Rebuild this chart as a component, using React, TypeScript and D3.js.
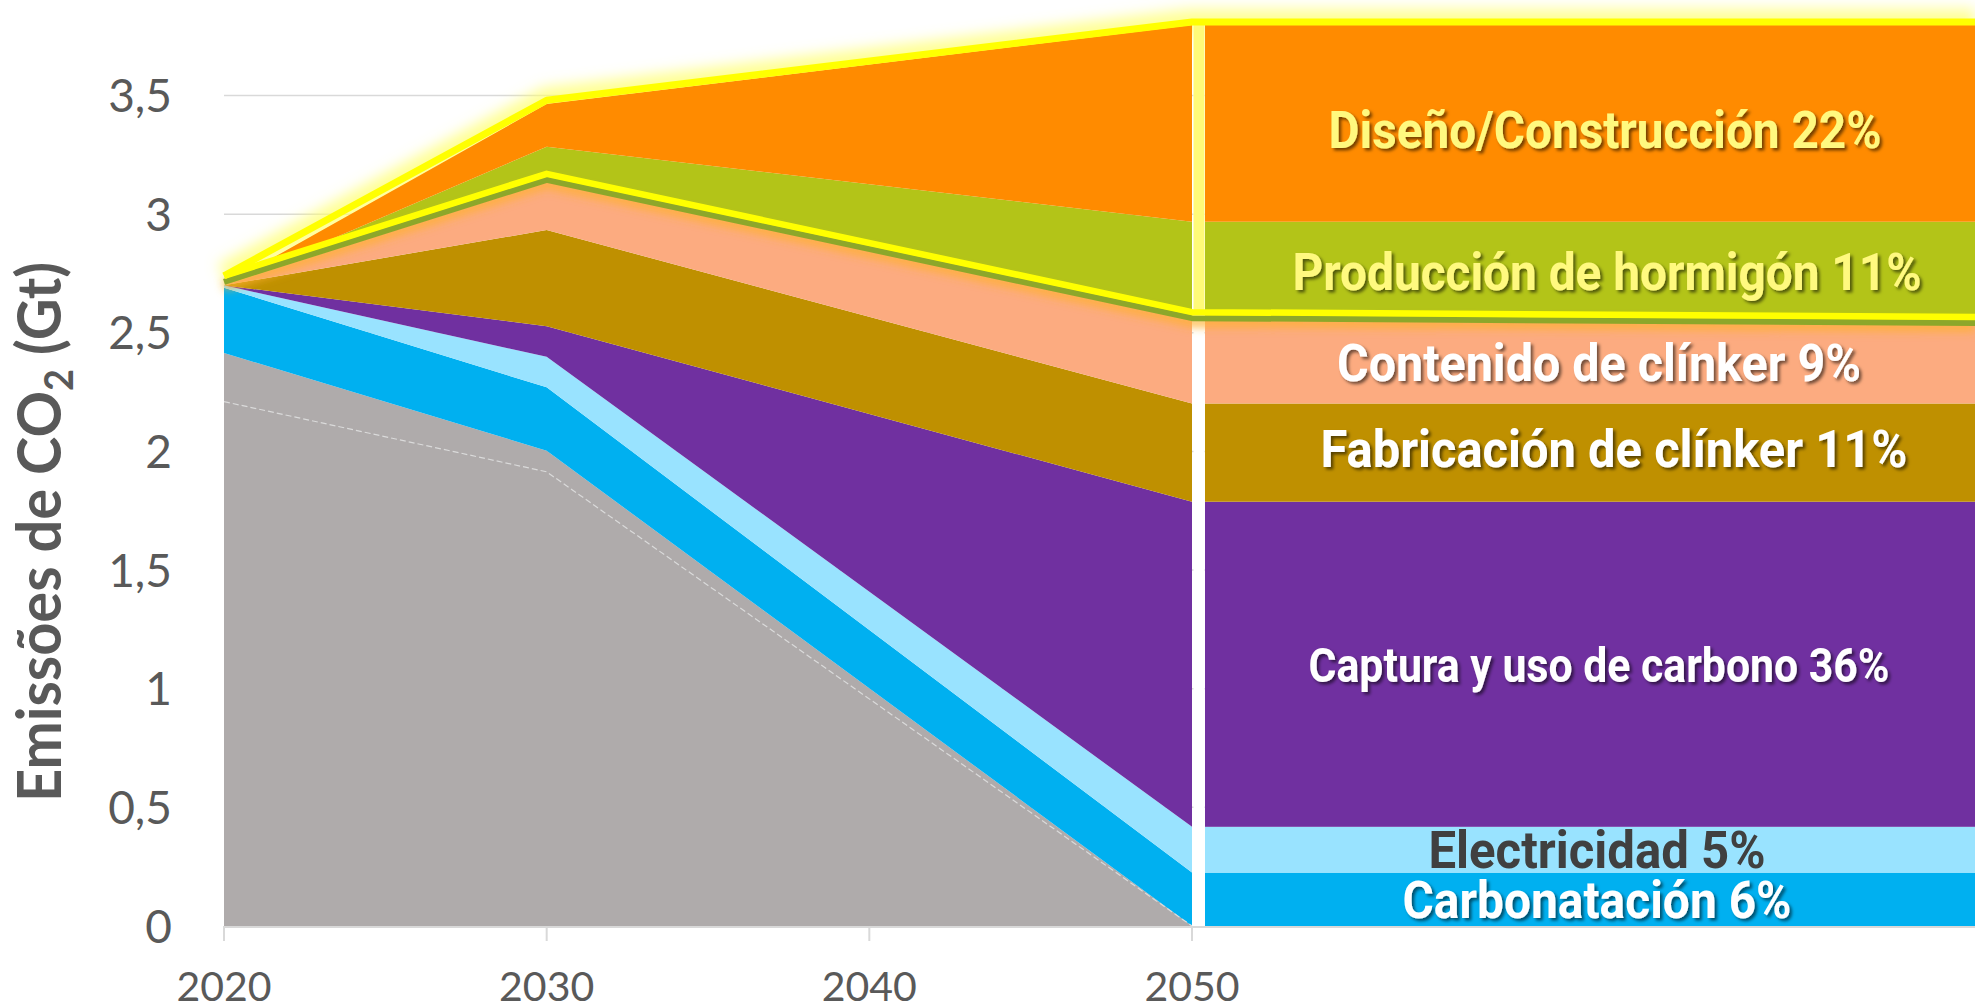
import React from 'react';
import * as d3 from 'd3';

const W = 1975;
const H = 1007;

// ---- data ----
const years = [2020, 2030, 2050];
const keys = ['residual', 'carbonatacion', 'electricidad', 'captura', 'fabricacion', 'contenido', 'hormigon', 'diseno'];
const residual = [2.415, 2.003, 0];
const carbonatacion = [0.275, 0.267, 0.225];
const electricidad = [0.01, 0.129, 0.193];
const captura = [0, 0.129, 1.37];
const fabricacion = [0, 0.405, 0.414];
const contenido = [0, 0.207, 0.349];
const hormigon = [0, 0.144, 0.417];
const diseno = [0, 0.18, 0.829];
const colors = ['#AFABAB', '#00B0F0', '#99E3FF', '#7030A0', '#BF9000', '#FCAB80', '#B3C418', '#FF8B00'];

const innerLine = [2.21, 1.914, 0];
const topLine = [2.74, 3.48, 3.81];
const topLineEnd = 3.81;
const midLine = [2.74, 3.17, 2.587];
const midLineEnd = 2.567;

const yTicks = [0, 0.5, 1, 1.5, 2, 2.5, 3, 3.5];
const yTickLabels = ['0', '0,5', '1', '1,5', '2', '2,5', '3', '3,5'];
const xTicks = [2020, 2030, 2040, 2050];

const labelTexts = [
  'Diseño/Construcción 22%',
  'Producción de hormigón 11%',
  'Contenido de clínker 9%',
  'Fabricación de clínker 11%',
  'Captura y uso de carbono 36%',
  'Electricidad 5%',
  'Carbonatación 6%',
];
const labelKeys = ['diseno', 'hormigon', 'contenido', 'fabricacion', 'captura', 'electricidad', 'carbonatacion'];
const labelColors = ['#FFF97F', '#FFF97F', '#FFFFFF', '#FFFFFF', '#FFFFFF', '#404040', '#FFFFFF'];
const labelCx = [1605, 1607, 1599, 1614, 1599, 1597, 1597];
const labelLen = [553, 629, 524, 587, 581, 337, 389];
const labelSize = [52, 52, 52, 52, 49, 52, 52];
const labelDy = [6, 0, 0, -4, 0, 0, 0];
const labelShadow = [true, true, true, true, true, false, true];

export default function App() {
  const x = d3.scaleLinear().domain([2020, 2050]).range([224, 1192]);
  const y = d3.scaleLinear().domain([0, 3.5]).range([926, 95.5]);
  const rightStart = x(2050) + 13;
  const rightEnd = W;

  const series: Record<string, number[]> = { residual, carbonatacion, electricidad, captura, fabricacion, contenido, hormigon, diseno };
  const table = years.map((yr, i) => {
    const row: any = { year: yr };
    keys.forEach((k) => (row[k] = series[k][i]));
    return row;
  });
  const stacked = d3.stack().keys(keys)(table);

  const area = d3
    .area<any>()
    .x((d) => x(d.data.year))
    .y0((d) => y(d[0]))
    .y1((d) => y(d[1]));

  const line = d3.line<[number, number]>().x((d) => d[0]).y((d) => d[1]);
  const ptsExt = (vals: number[], endVal: number): [number, number][] => [
    ...years.map((yr, i) => [x(yr), y(vals[i])] as [number, number]),
    [rightEnd, y(endVal)],
  ];
  const topPath = line(ptsExt(topLine, topLineEnd)) || '';
  const midPath = line(ptsExt(midLine, midLineEnd)) || '';
  const innerPath = line(years.map((yr, i) => [x(yr), y(innerLine[i])] as [number, number])) || '';

  const last = years.length - 1;
  const bandOf = (k: string) => stacked[keys.indexOf(k)][last];

  return (
    <svg width={W} height={H} style={{ position: 'absolute', left: 0, top: 0, background: '#fff' }}>
      <defs>
        <filter id="glow" filterUnits="userSpaceOnUse" x={0} y={-100} width={W} height={H + 200}>
          <feGaussianBlur stdDeviation={7} />
        </filter>
        <filter id="glow2" filterUnits="userSpaceOnUse" x={0} y={-100} width={W} height={H + 200}>
          <feGaussianBlur stdDeviation={4} />
        </filter>
        <filter id="shadow" x="-10%" y="-30%" width="120%" height="160%">
          <feDropShadow dx={2.5} dy={2.5} stdDeviation={1.6} floodColor="#000" floodOpacity={0.55} />
        </filter>
      </defs>

      {/* gridlines */}
      {yTicks.slice(1).map((t) => (
        <line key={t} x1={x(2020)} x2={W} y1={y(t)} y2={y(t)} stroke="#D9D9D9" strokeWidth={1.5} />
      ))}

      {/* glow of the top line */}
      <path d={topPath} fill="none" stroke="#FFFF70" strokeWidth={26} strokeOpacity={0.75} filter="url(#glow)" strokeLinejoin="round" />

      {/* areas */}
      {stacked.map((s, i) => (
        <path key={keys[i]} d={area(s as any) || ''} fill={colors[i]} />
      ))}

      {/* right-hand bands (2050 breakdown) */}
      {stacked.map((s, i) => {
        const d = s[last];
        if (d[1] - d[0] <= 0) return null;
        return <rect key={'b' + keys[i]} x={rightStart} width={rightEnd - rightStart} y={y(d[1])} height={y(d[0]) - y(d[1])} fill={colors[i]} />;
      })}

      {/* residual inner dashed line */}
      <path d={innerPath} fill="none" stroke="#DADADA" strokeWidth={1.2} strokeDasharray="6 3" />

      {/* separator at 2050 */}
      <rect x={x(2050) + 1.5} width={11} y={y(topLineEnd)} height={y(0) - y(topLineEnd) + 2} fill="#FFFFFF" />
      <rect x={x(2050) + 1.5} width={11} y={y(topLineEnd)} height={y(midLine[last]) - y(topLineEnd)} fill="#FFFA78" />

      {/* mid line: glow, olive stripe, yellow */}
      <path d={midPath} fill="none" stroke="#FFB030" strokeWidth={10} strokeOpacity={0.8} filter="url(#glow2)" transform="translate(0,10)" />
      <path d={midPath} fill="none" stroke="#8DA72A" strokeWidth={6} transform="translate(0,6)" strokeLinejoin="round" />
      <path d={midPath} fill="none" stroke="#FFFF00" strokeWidth={6.5} strokeLinejoin="round" />

      {/* top line */}
      <path d={topPath} fill="none" stroke="#FFFF00" strokeWidth={7} strokeLinejoin="round" />

      {/* x axis */}
      <line x1={x(2020)} x2={W} y1={y(0) + 1} y2={y(0) + 1} stroke="#D9D9D9" strokeWidth={2} />
      {xTicks.map((t) => (
        <g key={t}>
          <line x1={x(t)} x2={x(t)} y1={y(0)} y2={y(0) + 15} stroke="#D9D9D9" strokeWidth={2} />
          <text x={x(t)} y={1001} textAnchor="middle" fontFamily="Lato, 'Open Sans', sans-serif" fontSize={41} fill="#595959">
            {t}
          </text>
        </g>
      ))}

      {/* y axis labels */}
      {yTicks.map((t, i) => (
        <text key={t} x={172} y={y(t) + 16.5} textAnchor="end" fontFamily="Lato, 'Open Sans', sans-serif" fontSize={46} fill="#595959">
          {yTickLabels[i]}
        </text>
      ))}

      {/* y axis title */}
      <text
        transform="translate(61,532) rotate(-90)"
        textAnchor="middle"
        fontFamily="Lato, 'Open Sans', sans-serif"
        fontWeight={700}
        fontSize={61}
        fill="#595959"
        textLength={540}
        lengthAdjust="spacingAndGlyphs"
      >
        Emissões de CO<tspan fontSize={40} dy={12}>2</tspan>
        <tspan dy={-12}> (Gt)</tspan>
      </text>

      {/* right labels */}
      {labelTexts.map((txt, i) => {
        const d = bandOf(labelKeys[i]);
        const mid = (y(d[0]) + y(d[1])) / 2;
        const cap = labelSize[i] * 0.711;
        return (
          <text
            key={txt}
            x={labelCx[i] - labelLen[i] / 2}
            y={mid + cap / 2 + labelDy[i]}
            fontFamily="Roboto, 'Liberation Sans', sans-serif"
            fontWeight={700}
            fontSize={labelSize[i]}
            fill={labelColors[i]}
            textLength={labelLen[i]}
            lengthAdjust="spacingAndGlyphs"
            filter={labelShadow[i] ? 'url(#shadow)' : undefined}
          >
            {txt}
          </text>
        );
      })}
    </svg>
  );
}
